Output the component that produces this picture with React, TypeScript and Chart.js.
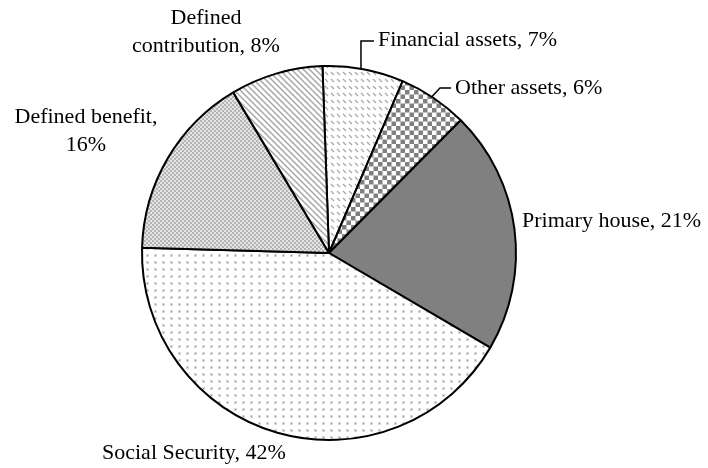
import React, { useEffect, useRef } from "react";
import { Chart, registerables } from "chart.js";

Chart.register(...registerables);

const categories = [
  "Financial assets",
  "Other assets",
  "Primary house",
  "Social Security",
  "Defined benefit",
  "Defined contribution",
];
const shares = [7, 6, 21, 42, 16, 8];

type LabelLayout = {
  lines: (text: string) => string[];
  x: number;
  y: number;
  align: CanvasTextAlign;
  leader?: { frac: number; elbow: [number, number]; end: [number, number] };
};

const layouts: LabelLayout[] = [
  { lines: (t) => [t], x: 378, y: 40, align: "left", leader: { frac: 0.47, elbow: [NaN, 41], end: [374, 41] } },
  { lines: (t) => [t], x: 455, y: 88, align: "left", leader: { frac: 0.47, elbow: [440, 88], end: [451, 88] } },
  { lines: (t) => [t], x: 522, y: 221, align: "left" },
  { lines: (t) => [t], x: 102, y: 453, align: "left" },
  { lines: (t) => { const i = t.indexOf(" 1"); return [t.slice(0, i), t.slice(i + 1)]; }, x: 86, y: 117, align: "center" },
  { lines: (t) => { const i = t.indexOf(" "); return [t.slice(0, i), t.slice(i + 1)]; }, x: 206, y: 18, align: "center" },
];

function tile(w: number, h: number, draw: (c: CanvasRenderingContext2D) => void): CanvasPattern {
  const cv = document.createElement("canvas");
  cv.width = w;
  cv.height = h;
  const c = cv.getContext("2d")!;
  c.fillStyle = "#ffffff";
  c.fillRect(0, 0, w, h);
  draw(c);
  const main = document.createElement("canvas").getContext("2d")!;
  return main.createPattern(cv, "repeat")!;
}

function makePatterns(): (CanvasPattern | string)[] {
  const financial = tile(6, 7, (c) => {
    c.strokeStyle = "#a8a8a8";
    c.lineWidth = 1.2;
    c.beginPath();
    c.moveTo(1, 2);
    c.lineTo(4, 5);
    c.stroke();
  });
  const other = tile(9, 9, (c) => {
    c.fillStyle = "#808080";
    c.fillRect(0, 0, 4.5, 4.5);
    c.fillRect(4.5, 4.5, 4.5, 4.5);
  });
  const social = tile(8, 7, (c) => {
    c.fillStyle = "#d8d8d8";
    c.fillRect(2, 2, 3, 3);
    c.fillStyle = "#9a9a9a";
    c.fillRect(3, 3, 1, 1);
  });
  const db = tile(4, 4, (c) => {
    c.fillStyle = "#b4b4b4";
    c.fillRect(0, 0, 2, 2);
    c.fillRect(2, 2, 2, 2);
    c.fillStyle = "#e4e4e4";
    c.fillRect(2, 0, 2, 2);
    c.fillRect(0, 2, 2, 2);
  });
  const dc = tile(6, 6, (c) => {
    c.strokeStyle = "#a8a8a8";
    c.lineWidth = 1.5;
    c.beginPath();
    c.moveTo(-1, -1);
    c.lineTo(7, 7);
    c.moveTo(-4, 2);
    c.lineTo(4, 10);
    c.moveTo(2, -4);
    c.lineTo(10, 4);
    c.stroke();
  });
  return [financial, other, "#808080", social, db, dc];
}

const labelPlugin = {
  id: "pieLabels",
  afterDraw(chart: any) {
    const ctx: CanvasRenderingContext2D = chart.ctx;
    const meta = chart.getDatasetMeta(0);
    ctx.save();
    ctx.font = '22px "Liberation Serif", "Times New Roman", serif';
    ctx.fillStyle = "#000";
    ctx.textBaseline = "middle";
    ctx.strokeStyle = "#000";
    ctx.lineWidth = 1.5;
    meta.data.forEach((arc: any, i: number) => {
      const lay = layouts[i];
      const text = `${categories[i]}, ${shares[i]}%`;
      const lines = lay.lines(text);
      ctx.textAlign = lay.align;
      lines.forEach((ln, k) => ctx.fillText(ln, lay.x, lay.y + k * 28));
      if (lay.leader) {
        const { startAngle, endAngle, outerRadius, x, y } = arc.getProps(["startAngle", "endAngle", "outerRadius", "x", "y"], true);
        const a = startAngle + (endAngle - startAngle) * lay.leader.frac;
        const sx = x + Math.cos(a) * outerRadius;
        const sy = y + Math.sin(a) * outerRadius;
        const ex = isNaN(lay.leader.elbow[0]) ? sx : lay.leader.elbow[0];
        ctx.beginPath();
        ctx.moveTo(sx, sy);
        ctx.lineTo(ex, lay.leader.elbow[1]);
        ctx.lineTo(lay.leader.end[0], lay.leader.end[1]);
        ctx.stroke();
      }
    });
    ctx.restore();
  },
};

export default function App() {
  const ref = useRef<HTMLCanvasElement>(null);
  useEffect(() => {
    if (!ref.current) return;
    const chart = new Chart(ref.current, {
      type: "pie",
      data: {
        labels: categories,
        datasets: [
          {
            data: shares,
            backgroundColor: makePatterns() as any,
            borderColor: "#000",
            borderWidth: 2,
          },
        ],
      },
      options: {
        responsive: false,
        animation: false,
        events: [],
        rotation: -2,
        layout: { padding: { left: 141, right: 191, top: 65, bottom: 27 } },
        plugins: { legend: { display: false }, tooltip: { enabled: false } },
      },
      plugins: [labelPlugin],
    });
    return () => chart.destroy();
  }, []);
  return (
    <div style={{ position: "fixed", left: 0, top: 0, width: 708, height: 468, background: "#fff" }}>
      <canvas ref={ref} width={708} height={468} />
    </div>
  );
}
